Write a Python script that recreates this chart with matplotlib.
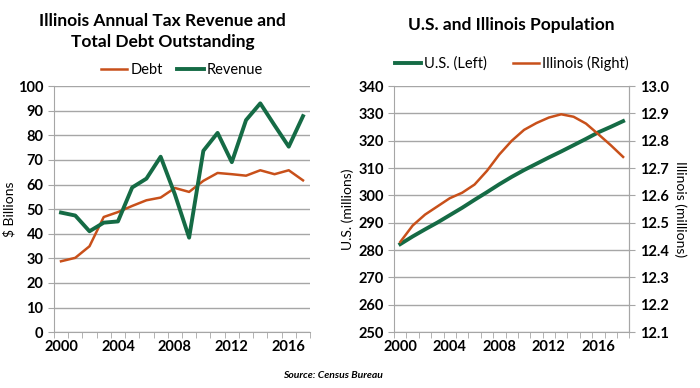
import numpy as np
import matplotlib.pyplot as plt

plt.rcParams['font.family'] = ['Lato', 'DejaVu Sans']

GREEN = '#156b45'
ORANGE = '#c8501a'
GRAY = '#a6a6a6'

years_left = list(range(2000, 2018))
debt = [28.8, 30.2, 34.9, 46.8, 48.8, 51.3, 53.6, 54.7, 58.6, 57.0,
        61.5, 64.7, 64.2, 63.6, 65.8, 64.2, 65.8, 61.7]
revenue = [48.6, 47.4, 41.0, 44.5, 45.0, 58.8, 62.4, 71.3, 56.0, 38.4,
           73.7, 81.0, 69.1, 86.2, 93.0, 84.1, 75.4, 87.8]

years_right = list(range(2000, 2019))
us_pop = [282.2, 285.0, 287.6, 290.1, 292.8, 295.5, 298.4, 301.2, 304.1, 306.8,
          309.3, 311.6, 313.9, 316.1, 318.4, 320.7, 323.1, 325.1, 327.2]
il_pop = [12.43, 12.49, 12.53, 12.56, 12.59, 12.61, 12.64, 12.69, 12.75, 12.80,
          12.84, 12.865, 12.885, 12.897, 12.888, 12.863, 12.824, 12.784, 12.741]

label_years = [2000, 2004, 2008, 2012, 2016]


def style_cat_axis(ax, years):
    n = len(years)
    x = np.arange(n)
    ax.set_xlim(-0.5, n - 0.5)
    ax.set_xticks([years.index(y) for y in label_years])
    ax.set_xticklabels([str(y) for y in label_years])
    ax.set_xticks(np.arange(n + 1) - 0.5, minor=True)
    ax.tick_params(axis='x', which='major', length=0, pad=6)
    ax.tick_params(axis='x', which='minor', length=4, color=GRAY, direction='out')
    ax.tick_params(axis='y', length=4, color=GRAY)
    ax.tick_params(labelsize=10.5)
    for t in ax.get_xticklabels() + ax.get_yticklabels():
        t.set_fontweight('bold')
    ax.spines['top'].set_visible(False)
    ax.spines['right'].set_visible(False)
    ax.spines['left'].set_color(GRAY)
    ax.spines['bottom'].set_color(GRAY)
    ax.grid(axis='y', color=GRAY, linewidth=1)
    ax.set_axisbelow(True)
    return x


fig = plt.figure(figsize=(7, 3.88), dpi=100)

# left chart
ax1 = fig.add_axes([0.077, 0.144, 0.366, 0.634])
x = style_cat_axis(ax1, years_left)
ax1.plot(x, debt, color=ORANGE, lw=1.8, label='Debt')
ax1.plot(x, revenue, color=GREEN, lw=2.8, label='Revenue')
ax1.set_ylim(0, 100)
ax1.set_yticks(range(0, 101, 10))
ax1.set_ylabel('$ Billions', fontsize=10, labelpad=2)
ax1.legend(loc='lower center', bbox_to_anchor=(0.5, 1.0), ncol=2, frameon=False,
           fontsize=10.5, handlelength=1.8, handletextpad=0.2, columnspacing=1.0,
           borderaxespad=0.2)
fig.text(0.232, 0.919, 'Illinois Annual Tax Revenue and\nTotal Debt Outstanding',
         ha='center', va='center', fontsize=12.5, fontweight='bold', linespacing=1.35)

# right chart
ax2 = fig.add_axes([0.563, 0.144, 0.336, 0.634])
x2 = style_cat_axis(ax2, years_right)
ax2.spines['right'].set_visible(True)
ax2.spines['right'].set_color(GRAY)
ax2.set_ylim(250, 340)
ax2.set_yticks(range(250, 341, 10))
ax2.set_ylabel('U.S. (millions)', fontsize=10, labelpad=3)
l1, = ax2.plot(x2, us_pop, color=GREEN, lw=2.8, label='U.S. (Left)')

ax3 = ax2.twinx()
ax3.set_ylim(12.1, 13.0)
ax3.set_yticks(np.round(np.arange(12.1, 13.01, 0.1), 1))
ax3.set_yticklabels([f'{v:.1f}' for v in np.arange(12.1, 13.01, 0.1)])
ax3.tick_params(axis='y', length=4, color=GRAY, labelsize=10.5)
for t in ax3.get_yticklabels():
    t.set_fontweight('bold')
for s in ['top', 'left', 'bottom']:
    ax3.spines[s].set_visible(False)
ax3.spines['right'].set_color(GRAY)
l2, = ax3.plot(x2, il_pop, color=ORANGE, lw=1.8, label='Illinois (Right)')
ax3.set_ylabel('Illinois (millions)', fontsize=10, rotation=270, labelpad=13)
ax2.legend(handles=[l1, l2], loc='lower center', bbox_to_anchor=(0.5, 1.027), ncol=2,
           frameon=False, fontsize=10.5, handlelength=1.8, handletextpad=0.2,
           columnspacing=1.8, borderaxespad=0.2)
fig.text(0.731, 0.935, 'U.S. and Illinois Population', ha='center', va='center',
         fontsize=12.5, fontweight='bold')

fig.text(0.475, 0.031, 'Source: Census Bureau', ha='center', va='center',
         fontsize=7.5, fontstyle='italic', fontweight='bold')

fig.savefig('out.png', dpi=100)
